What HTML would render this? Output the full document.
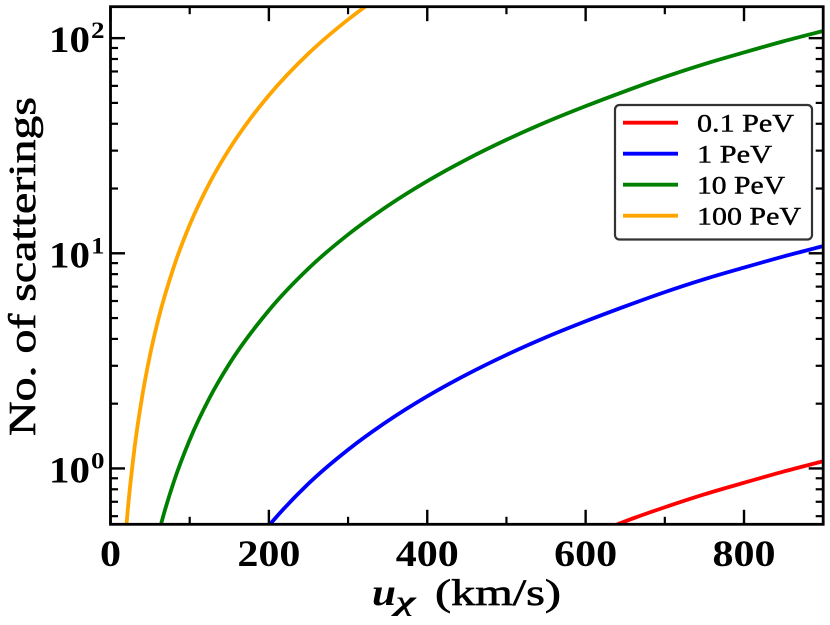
<!DOCTYPE html>
<html>
<head>
<meta charset="utf-8">
<title>No. of scatterings vs velocity</title>
<style>
html,body{margin:0;padding:0;background:#fff;width:830px;height:625px;overflow:hidden}
svg{display:block}
text{font-family:"Liberation Serif","DejaVu Serif",serif;fill:#000}
.semi{stroke:#000;stroke-width:0.65px}
</style>
</head>
<body>
<svg id="chart" xmlns="http://www.w3.org/2000/svg" width="830" height="625" viewBox="0 0 830 625">
  <defs><clipPath id="plot-clip"><rect x="110.5" y="6.7" width="712.7" height="517.6"/></clipPath></defs>
  <g id="series-layer" clip-path="url(#plot-clip)"></g>
  <g id="tick-layer"></g>
  <rect x="110.5" y="6.7" width="712.7" height="517.6" fill="none" stroke="#000" stroke-width="2.8"/>
  <g id="label-layer"></g>

  <text class="semi" transform="translate(35,436) rotate(-90)" font-size="38" textLength="339" lengthAdjust="spacingAndGlyphs">No. of scatterings</text>
  <g>
    <text x="372" y="605" font-size="38" font-weight="bold" font-style="italic" textLength="24" lengthAdjust="spacingAndGlyphs">u</text>
    <text x="396" y="610" font-size="27" font-weight="bold" font-style="italic" textLength="20" lengthAdjust="spacingAndGlyphs">χ</text>
    <text class="semi" x="435" y="605" font-size="37" textLength="126" lengthAdjust="spacingAndGlyphs">(km/s)</text>
  </g>

  <g>
    <rect x="615" y="105" width="197" height="134.5" rx="4.5" ry="4.5" fill="#fff" fill-opacity="0.8" stroke="#333" stroke-width="2.2"/>
    <line x1="623" x2="678" y1="122.7" y2="122.7" stroke="#ff0000" stroke-width="3.8"/>
    <text class="semi" x="697" y="131.5" font-size="25" textLength="97" lengthAdjust="spacingAndGlyphs" style="stroke-width:.4px">0.1 PeV</text>
    <line x1="623" x2="678" y1="153.7" y2="153.7" stroke="#0000ff" stroke-width="3.8"/>
    <text class="semi" x="697" y="162.5" font-size="25" textLength="75" lengthAdjust="spacingAndGlyphs" style="stroke-width:.4px">1 PeV</text>
    <line x1="623" x2="678" y1="184.7" y2="184.7" stroke="#008000" stroke-width="3.8"/>
    <text class="semi" x="697" y="193.5" font-size="25" textLength="88" lengthAdjust="spacingAndGlyphs" style="stroke-width:.4px">10 PeV</text>
    <line x1="623" x2="678" y1="215.7" y2="215.7" stroke="#ffa500" stroke-width="3.8"/>
    <text class="semi" x="697" y="224.5" font-size="25" textLength="104" lengthAdjust="spacingAndGlyphs" style="stroke-width:.4px">100 PeV</text>
  </g>
</svg>
<script>
// Chart data
const xMajorTicks = [0, 200, 400, 600, 800];
const xMinorTicks = [100, 300, 500, 700, 900];
const yMajorTicks = [1, 10, 100];
const yExponents = ['0', '1', '2'];
const yMinorTicks = [0.6, 0.7, 0.8, 0.9, 2, 3, 4, 5, 6, 7, 8, 9, 20, 30, 40, 50, 60, 70, 80, 90];

const redU = [630, 650, 700, 750, 800, 850, 900];
const redN = [0.532, 0.568, 0.66, 0.758, 0.858, 0.967, 1.08];

const blueU = [195, 205, 250, 300, 350, 400, 450, 500, 550, 600, 650, 700, 750, 800, 850, 900];
const blueN = [0.516, 0.57, 0.85, 1.222, 1.66, 2.165, 2.735, 3.37, 4.07, 4.83, 5.67, 6.6, 7.58, 8.58, 9.67, 10.8];

const greenU = [60, 65, 80, 100, 125, 150, 200, 250, 300, 350, 400, 450, 500, 550, 600, 650, 700, 750, 800, 850, 900];
const greenN = [0.487, 0.572, 0.868, 1.358, 2.125, 3.06, 5.43, 8.5, 12.22, 16.6, 21.65, 27.35, 33.7, 40.7, 48.3, 56.7, 66, 75.8, 85.8, 96.7, 108];

const orangeU = [19, 22, 30, 40, 50, 60, 80, 100, 125, 150, 175, 200, 250, 300, 335];
const orangeN = [0.488, 0.653, 1.215, 2.16, 3.38, 4.87, 8.66, 13.55, 21.2, 30.5, 41.5, 54.2, 84.8, 122, 152];

const xDomain = [0, 900];
const yDomain = [0.55, 140];
const plotLeft = 110.5, plotRight = 823.2, plotTop = 6.7, plotBottom = 524.3;

function xScale(u) {
  return plotLeft + (u - xDomain[0]) / (xDomain[1] - xDomain[0]) * (plotRight - plotLeft);
}
function yScale(n) {
  const lo = Math.log10(yDomain[0]), hi = Math.log10(yDomain[1]);
  return plotBottom - (Math.log10(n) - lo) / (hi - lo) * (plotBottom - plotTop);
}
const NS = 'http://www.w3.org/2000/svg';
function make(parent, tag, attrs, content) {
  const el = document.createElementNS(NS, tag);
  for (const k in attrs) el.setAttribute(k, attrs[k]);
  if (content !== undefined) el.textContent = content;
  parent.appendChild(el);
  return el;
}
// Cubic through the data; tangent at each point is the spacing-weighted three-point slope
function smoothPath(us, ns) {
  const p = us.map((u, i) => [xScale(u), yScale(ns[i])]);
  const n = p.length;
  const slope = i => (p[i + 1][1] - p[i][1]) / (p[i + 1][0] - p[i][0]);
  const width = i => p[i + 1][0] - p[i][0];
  const tan = p.map((pt, i) => {
    if (i === 0) return slope(0);
    if (i === n - 1) return slope(n - 2);
    const h0 = width(i - 1), h1 = width(i);
    return (h1 * slope(i - 1) + h0 * slope(i)) / (h0 + h1);
  });
  let d = 'M' + p[0][0].toFixed(2) + ' ' + p[0][1].toFixed(2);
  for (let i = 0; i < n - 1; i++) {
    const b = p[i], c = p[i + 1], h = (c[0] - b[0]) / 3;
    d += 'C' + (b[0] + h).toFixed(2) + ' ' + (b[1] + tan[i] * h).toFixed(2) + ' ' + (c[0] - h).toFixed(2) + ' ' + (c[1] - tan[i + 1] * h).toFixed(2) + ' ' + c[0].toFixed(2) + ' ' + c[1].toFixed(2);
  }
  return d;
}

const seriesLayer = document.getElementById('series-layer');
const tickLayer = document.getElementById('tick-layer');
const labelLayer = document.getElementById('label-layer');

const redLine = make(seriesLayer, 'path', {d: smoothPath(redU, redN), fill: 'none', stroke: '#ff0000', 'stroke-width': 3.8});


const blueLine = make(seriesLayer, 'path', {d: smoothPath(blueU, blueN), fill: 'none', stroke: '#0000ff', 'stroke-width': 3.8});


const greenLine = make(seriesLayer, 'path', {d: smoothPath(greenU, greenN), fill: 'none', stroke: '#008000', 'stroke-width': 3.8});


const orangeLine = make(seriesLayer, 'path', {d: smoothPath(orangeU, orangeN), fill: 'none', stroke: '#ffa500', 'stroke-width': 3.8});



function xTick(u, len, width) {
  const x = xScale(u);
  const bottom = make(tickLayer, 'line', {x1: x, x2: x, y1: plotBottom, y2: plotBottom - len, stroke: '#000', 'stroke-width': width});
  
  
  const top = make(tickLayer, 'line', {x1: x, x2: x, y1: plotTop, y2: plotTop + len, stroke: '#000', 'stroke-width': width});
  
  
}
function yTick(n, len, width) {
  const y = yScale(n);
  const left = make(tickLayer, 'line', {x1: plotLeft, x2: plotLeft + len, y1: y, y2: y, stroke: '#000', 'stroke-width': width});
  
  
  const right = make(tickLayer, 'line', {x1: plotRight, x2: plotRight - len, y1: y, y2: y, stroke: '#000', 'stroke-width': width});
  
  
}
xMajorTicks.forEach(u => xTick(u, 14.5, 2.4));
xMinorTicks.forEach(u => xTick(u, 7.5, 2.2));
yMajorTicks.forEach(n => yTick(n, 14.5, 2.4));
yMinorTicks.forEach(n => yTick(n, 7.5, 2.2));

xMajorTicks.forEach(u => {
  const s = String(u);
  const w = s.length * 21;
  const t = make(labelLayer, 'text', {x: xScale(u) - w / 2, y: 566, 'font-size': 37, 'font-weight': 'bold', textLength: w, lengthAdjust: 'spacingAndGlyphs'}, s);
  
  
});
yMajorTicks.forEach((n, i) => {
  const base = yScale(n) + 14;
  const t = make(labelLayer, 'text', {x: 49, y: base, 'font-size': 37, 'font-weight': 'bold', textLength: 41, lengthAdjust: 'spacingAndGlyphs'}, '10');
  
  
  const e = make(labelLayer, 'text', {x: 91, y: base - 14, 'font-size': 23, 'font-weight': 'bold', textLength: 13.5, lengthAdjust: 'spacingAndGlyphs'}, yExponents[i]);
  
  
});
</script>
</body>
</html>
